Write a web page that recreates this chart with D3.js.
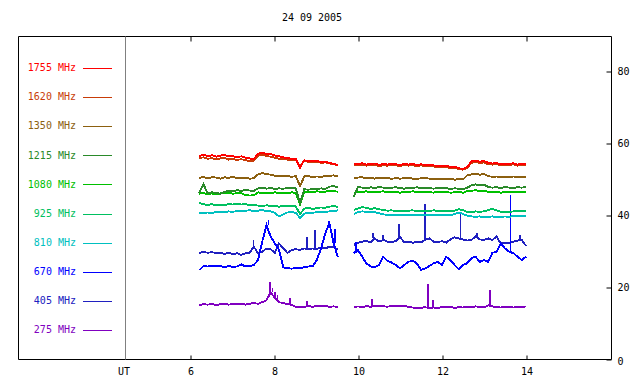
<!DOCTYPE html>
<html>
<head>
<meta charset="utf-8">
<script src="https://cdn.jsdelivr.net/npm/d3@7"></script>
<style>
  body { margin: 0; background: #fff; }
  svg text { font-family: "DejaVu Sans Mono", monospace; font-size: 10px; }
</style>
</head>
<body>
<div id="chart"></div>
<script>
// time grid (UT hours) of the two observing runs
const timesA = [6.22, 6.32, 6.42, 6.52, 6.62, 6.72, 6.82, 6.92, 7.02, 7.12, 7.22, 7.32, 7.42, 7.52, 7.62, 7.72, 7.82,
  7.92, 8.02, 8.12, 8.22, 8.32, 8.42, 8.52, 8.62, 8.72, 8.82, 8.92, 9.02, 9.12, 9.22, 9.32, 9.42, 9.52];
const timesB = [9.9, 10.0, 10.1, 10.2, 10.3, 10.4, 10.5, 10.6, 10.7, 10.8, 10.9, 11.0, 11.1, 11.2, 11.3, 11.4, 11.5,
  11.6, 11.7, 11.8, 11.9, 12.0, 12.1, 12.2, 12.3, 12.4, 12.5, 12.6, 12.7, 12.8, 12.9, 13.0, 13.1, 13.2, 13.3, 13.4,
  13.5, 13.6, 13.7, 13.8, 13.9, 14.0];

const labels = ['1755 MHz', '1620 MHz', '1350 MHz', '1215 MHz', '1080 MHz', '925 MHz', '810 MHz', '670 MHz', '405 MHz', '275 MHz'];
const colors = ['#ff0000', '#c83c08', '#8c6010', '#2a8a2a', '#00c000', '#00c060', '#00c0c0', '#0000ff', '#2020c0', '#8000c0'];

const f1755a = [56.4, 56.8, 56.3, 56.6, 56.2, 56.5, 56.7, 56.3, 56.4, 56.0, 56.3, 55.9, 55.7, 55.6, 57.0, 57.3, 57.0,
  56.9, 56.5, 56.3, 56.0, 55.8, 55.6, 55.5, 53.2, 55.2, 55.0, 54.9, 55.1, 54.7, 54.8, 54.5, 54.2, 53.9];
const f1755b = [54.3, 54.1, 54.4, 54.0, 54.2, 54.3, 53.9, 54.2, 54.0, 54.3, 54.1, 53.9, 54.2, 54.0, 54.3, 53.8, 54.1,
  53.9, 54.0, 53.8, 53.6, 53.5, 53.7, 53.3, 53.4, 53.0, 52.8, 53.3, 54.9, 55.1, 54.8, 55.0, 54.5, 54.3, 54.4, 54.1,
  54.3, 54.2, 54.4, 54.0, 54.3, 54.2];
const f1620a = [55.9, 56.0, 55.6, 55.8, 55.5, 55.7, 55.9, 55.4, 55.6, 55.3, 55.5, 55.2, 55.0, 55.1, 56.5, 56.7, 56.4,
  56.2, 55.9, 55.6, 55.6, 55.4, 55.3, 55.2, 53.5, 55.0, 54.8, 54.7, 54.8, 54.5, 54.6, 54.3, 54.1, 53.8];
const f1620b = [54.0, 53.8, 54.0, 53.7, 53.9, 54.0, 53.6, 53.8, 53.7, 54.0, 53.8, 53.6, 53.9, 53.7, 53.9, 53.5, 53.8,
  53.6, 53.7, 53.5, 53.3, 53.2, 53.4, 53.0, 53.1, 52.7, 52.6, 53.0, 54.5, 54.7, 54.5, 54.6, 54.1, 54.0, 54.1, 53.8,
  54.0, 53.9, 54.1, 53.7, 54.0, 53.9];
const f1350a = [50.3, 50.6, 50.2, 50.5, 50.4, 50.1, 50.5, 50.3, 50.6, 50.2, 50.4, 50.3, 50.1, 50.2, 51.3, 51.6, 51.4,
  51.2, 50.9, 50.8, 50.7, 50.9, 50.6, 50.8, 48.0, 50.7, 50.8, 50.5, 50.7, 50.6, 50.8, 50.9, 51.0, 50.8];
const f1350b = [50.1, 50.4, 50.5, 50.2, 50.3, 50.1, 50.4, 50.2, 50.3, 50.0, 50.3, 50.1, 50.2, 50.4, 50.1, 50.0, 50.2,
  50.3, 50.1, 49.9, 50.1, 50.0, 49.9, 50.1, 49.8, 50.0, 49.9, 51.0, 51.3, 51.5, 51.2, 51.4, 50.8, 50.6, 50.7, 50.5,
  50.6, 50.4, 50.7, 50.6, 50.5, 50.6];
const f1215a = [46.1, 48.6, 46.0, 46.3, 46.2, 45.9, 46.4, 46.8, 46.6, 46.9, 46.7, 47.0, 46.8, 46.7, 47.4, 47.6, 47.3,
  47.5, 47.2, 47.4, 47.3, 47.5, 47.6, 47.4, 43.3, 47.2, 47.0, 47.3, 47.1, 47.4, 47.2, 47.9, 48.0, 47.7];
const f1215b = [45.0, 47.8, 47.6, 47.4, 47.7, 47.5, 47.8, 47.6, 47.4, 47.6, 47.7, 47.5, 47.3, 47.6, 47.5, 47.7, 47.4,
  47.6, 47.5, 47.3, 47.6, 47.4, 47.5, 47.2, 47.4, 47.3, 47.1, 47.6, 48.2, 48.5, 48.3, 48.4, 47.8, 47.6, 47.7, 47.5,
  47.8, 47.6, 47.5, 47.7, 47.6, 47.8];
const f1080a = [45.9, 46.1, 45.8, 46.0, 45.7, 46.0, 46.1, 46.2, 45.9, 46.1, 46.0, 45.6, 45.4, 45.5, 46.3, 46.1, 46.2,
  46.0, 46.3, 46.1, 46.2, 46.0, 46.3, 46.1, 42.9, 46.4, 46.5, 46.3, 46.6, 46.4, 46.5, 46.7, 46.6, 46.5];
const f1080b = [46.2, 46.5, 46.4, 46.6, 46.3, 46.5, 46.4, 46.6, 46.3, 46.5, 46.4, 46.2, 46.5, 46.3, 46.6, 46.4, 46.5,
  46.3, 46.4, 46.2, 46.5, 46.3, 46.4, 46.2, 46.3, 46.4, 46.2, 46.6, 46.7, 46.9, 46.6, 46.8, 46.4, 46.3, 46.5, 46.2,
  46.4, 46.3, 46.5, 46.3, 46.4, 46.5];
const f925a = [43.3, 43.0, 42.8, 43.0, 42.7, 42.9, 42.8, 43.0, 42.9, 43.1, 42.9, 43.0, 42.8, 42.9, 42.6, 42.4, 42.7,
  42.5, 42.6, 42.3, 42.5, 42.4, 42.6, 42.4, 40.2, 41.8, 42.0, 41.7, 41.9, 42.1, 42.0, 42.3, 42.5, 42.2];
const f925b = [41.4, 41.8, 42.2, 42.0, 41.7, 41.9, 41.6, 41.4, 41.2, 41.3, 41.1, 41.2, 41.0, 41.2, 41.3, 41.1, 41.2,
  41.0, 41.1, 41.3, 41.1, 41.2, 41.0, 41.1, 41.2, 41.6, 41.3, 40.9, 40.8, 41.0, 40.9, 41.0, 41.4, 41.7, 41.3, 40.9,
  40.8, 40.9, 41.0, 41.1, 41.0, 41.2];
const f810a = [40.6, 40.5, 40.7, 40.6, 40.8, 40.9, 40.7, 41.0, 40.9, 41.1, 41.0, 41.2, 41.3, 41.1, 41.2, 41.4, 41.1,
  41.0, 40.6, 39.6, 40.2, 40.7, 40.8, 40.6, 39.2, 40.4, 40.5, 40.6, 40.8, 40.7, 40.9, 41.0, 41.1, 41.3];
const f810b = [40.3, 40.8, 41.0, 40.9, 40.7, 40.8, 40.5, 40.2, 40.0, 40.1, 39.9, 40.0, 40.1, 39.9, 40.0, 40.1, 39.9,
  40.0, 40.1, 39.9, 40.0, 40.1, 39.9, 40.0, 40.2, 40.7, 40.3, 39.8, 39.6, 39.5, 39.6, 39.4, 39.5, 39.6, 39.4, 39.5,
  39.6, 39.5, 39.7, 39.6, 39.8, 39.7];
const f670a = [24.7, 25.8, 25.7, 25.9, 25.7, 25.8, 25.5, 25.8, 25.6, 25.7, 26.3, 25.7, 25.8, 26.1, 27.5, 32.6, 37.2,
  34.0, 32.1, 30.3, 25.5, 25.2, 25.1, 25.3, 25.2, 25.5, 25.7, 25.8, 27.5, 30.7, 34.9, 37.7, 32.1, 28.4];
const f670b = [29.4, 30.3, 28.4, 26.6, 25.7, 25.5, 26.1, 28.4, 27.3, 26.8, 26.1, 25.2, 26.1, 27.0, 27.3, 26.6, 24.7,
  25.2, 25.8, 26.6, 27.0, 26.1, 28.4, 27.5, 26.1, 24.9, 26.1, 26.6, 28.0, 28.4, 27.0, 27.5, 27.0, 29.5, 29.8, 32.1,
  30.7, 29.8, 29.4, 28.4, 27.5, 28.4];
const f405a = [29.4, 29.8, 29.5, 29.7, 29.4, 29.6, 29.2, 29.5, 29.1, 29.4, 28.9, 29.4, 29.5, 31.2, 29.4, 29.8, 30.7,
  30.5, 29.5, 32.1, 30.7, 29.5, 30.3, 30.5, 30.3, 30.7, 30.5, 30.7, 30.6, 31.0, 30.7, 31.2, 31.0, 30.5];
const f405b = [31.7, 32.3, 32.6, 32.8, 32.4, 33.5, 32.6, 33.1, 32.6, 32.4, 32.8, 33.9, 32.4, 32.6, 32.3, 32.5, 32.4,
  33.1, 33.5, 32.6, 32.5, 32.7, 32.3, 33.2, 33.8, 33.5, 33.2, 32.9, 33.1, 34.0, 33.2, 33.1, 33.5, 33.1, 34.0, 32.1,
  32.3, 32.1, 32.6, 32.9, 33.1, 31.4];
const f275a = [15.0, 15.2, 15.1, 15.3, 15.0, 15.2, 15.4, 15.1, 15.3, 15.2, 15.4, 15.1, 15.3, 15.6, 15.3, 15.8, 16.3,
  18.5, 17.0, 15.8, 15.5, 15.3, 15.0, 14.5, 14.4, 14.5, 14.7, 14.5, 14.8, 14.6, 14.7, 14.5, 14.6, 14.5];
const f275b = [14.5, 14.6, 14.4, 14.7, 14.5, 14.8, 14.6, 14.7, 14.5, 14.8, 14.7, 14.6, 14.8, 14.5, 14.3, 14.1, 14.2,
  14.4, 14.1, 14.3, 14.2, 14.4, 14.3, 14.5, 14.2, 14.4, 14.3, 14.5, 14.4, 14.6, 14.5, 14.3, 14.9, 14.6, 14.4, 14.3,
  14.5, 14.4, 14.3, 14.5, 14.4, 14.6];

// short bursts [UT hour, peak]
const spikes670 = [[7.87, 38.6], [9.30, 38.3], [9.45, 36.0], [9.95, 32.5], [13.63, 45.6]];
const spikes405 = [[7.51, 33.1], [8.78, 34.0], [8.98, 35.8], [10.36, 34.9], [10.60, 34.4], [10.98, 37.5],
  [11.60, 43.1], [12.44, 40.9], [12.83, 35.0], [13.86, 34.4]];
const spikes275 = [[7.90, 21.5], [7.97, 19.6], [8.02, 18.7], [8.08, 17.8], [8.38, 16.9], [8.78, 16.2],
  [10.33, 16.6], [11.67, 20.8], [11.79, 16.4], [13.14, 19.2]];

const xTicks = [6, 8, 10, 12, 14];
const yTicks = [0, 20, 40, 60, 80];

const runsA = [f1755a, f1620a, f1350a, f1215a, f1080a, f925a, f810a, f670a, f405a, f275a];
const runsB = [f1755b, f1620b, f1350b, f1215b, f1080b, f925b, f810b, f670b, f405b, f275b];
const spikeSets = [[], [], [], [], [], [], [], spikes670, spikes405, spikes275];

const width = 640, height = 384;
const frameLeft = 18, panelRight = 125, frameRight = 611, frameTop = 36, frameBottom = 359;

const svg = d3.select('#chart').append('svg')
  .attr('width', width)
  .attr('height', height);

const x = d3.scaleLinear().domain([6, 14]).range([190, 526]);
const y = d3.scaleLinear().domain([0, 90]).range([frameBottom, 35]);

svg.append('text')
  .attr('x', 312).attr('y', 21)
  .attr('text-anchor', 'middle')
  .text('24 09 2005');

// frame
const frame = svg.append('g').attr('fill', 'none').attr('stroke', '#000');
frame.append('path')
  .attr('d', `M${frameLeft + 0.5},${frameTop + 0.5}H${frameRight + 0.5}V${frameBottom + 0.5}H${frameLeft + 0.5}Z`);
svg.append('line')
  .attr('x1', panelRight + 0.5).attr('x2', panelRight + 0.5)
  .attr('y1', frameTop + 0.5).attr('y2', frameBottom + 0.5)
  .attr('stroke', '#808080');

// top ticks
svg.append('g')
  .attr('transform', `translate(0.5,${frameTop + 0.5})`)
  .call(d3.axisTop(x).tickValues(xTicks).tickSize(-5).tickFormat(''))
  .call(g => g.select('.domain').remove());

// bottom axis
const xAxis = svg.append('g')
  .attr('transform', `translate(0.5,${frameBottom + 0.5})`)
  .call(d3.axisBottom(x).tickValues(xTicks).tickSize(-4).tickPadding(8));
xAxis.select('.domain').remove();
xAxis.selectAll('text').attr('font-family', null).attr('font-size', null);

svg.append('text')
  .attr('x', panelRight - 1).attr('y', frameBottom + 16)
  .attr('text-anchor', 'middle')
  .text('UT');

// right axis
const yAxis = svg.append('g')
  .attr('transform', `translate(${frameRight + 0.5},0.5)`)
  .call(d3.axisLeft(y).tickValues(yTicks).tickSize(5).tickPadding(-11));
yAxis.select('.domain').remove();
yAxis.selectAll('text').attr('text-anchor', 'start').attr('font-family', null).attr('font-size', null)
  .attr('dy', d => d === 0 ? '0.45em' : '0.32em');

// legend
const legend = svg.append('g');
labels.forEach((lab, i) => {
  const ly = 68 + i * 29.1;
  legend.append('text')
    .attr('x', 76).attr('y', ly)
    .attr('dy', '0.32em')
    .attr('text-anchor', 'end')
    .attr('fill', colors[i])
    .text(lab);
  legend.append('line')
    .attr('x1', 83).attr('x2', 112)
    .attr('y1', Math.round(ly) + 0.5).attr('y2', Math.round(ly) + 0.5)
    .attr('stroke', colors[i]);
});

// series
const line = d3.line()
  .x(d => x(d[0]))
  .y(d => y(d[1]));

const plot = svg.append('g').attr('fill', 'none').attr('stroke-width', 1.9).attr('shape-rendering', 'crispEdges');

d3.range(labels.length).reverse().forEach(i => {
  const ptsA = timesA.map((t, k) => [t, runsA[i][k]]);
  const ptsB = timesB.map((t, k) => [t, runsB[i][k]]);
  [ptsA, ptsB].forEach(pts => {
    plot.append('path')
      .attr('d', line(pts))
      .attr('stroke', colors[i]);
  });
  const all = ptsA.concat(ptsB);
  spikeSets[i].forEach(([t, v]) => {
    const base = all.reduce((a, b) => Math.abs(b[0] - t) < Math.abs(a[0] - t) ? b : a);
    plot.append('line')
      .attr('x1', x(t)).attr('x2', x(t))
      .attr('y1', y(base[1])).attr('y2', y(v))
      .attr('stroke', colors[i])
      .attr('stroke-width', 1.5);
  });
});
</script>
</body>
</html>
